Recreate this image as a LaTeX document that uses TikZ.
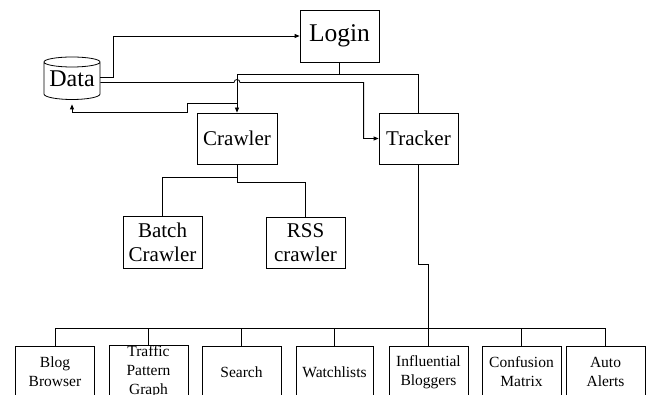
\documentclass[tikz,border=0pt]{standalone}
\usepackage{fontspec}
\setmainfont{Liberation Serif}
\usetikzlibrary{arrows.meta,calc}
\begin{document}
\begin{tikzpicture}[x=1pt,y=1pt,
  line width=0.8pt,
  box/.style={draw,line width=0.8pt,inner sep=0pt,align=center},
  bigbox/.style={box,minimum width=79pt,minimum height=52pt,font=\fontsize{25.5}{28}\selectfont},
  midbox/.style={box,minimum width=79pt,minimum height=51pt,font=\fontsize{21}{24}\selectfont},
  smallbox/.style={box,minimum width=79pt,minimum height=52pt,font=\fontsize{15.5}{19}\selectfont},
  arr/.style={-{Triangle[length=5pt,width=4pt]}}]
\clip (0,0) rectangle (647,394);
% nodes
\node[bigbox] (login) at (339.5,358) {Login};
\node[inner sep=0pt,minimum width=56pt,minimum height=43pt,font=\fontsize{24}{28}\selectfont] (data) at (72,315.5) {Data};
\draw (44,332) -- (44,300) arc[start angle=180,end angle=360,x radius=28,y radius=5.5] -- (100,332)
  arc[start angle=0,end angle=180,x radius=28,y radius=5] arc[start angle=180,end angle=360,x radius=28,y radius=5];
\node[midbox,minimum width=80pt] (crawler) at (237,255.5) {Crawler};
\node[midbox] (tracker) at (418.5,255.5) {Tracker};
\node[midbox,minimum height=52pt] (batch) at (162.5,152) {Batch\\Crawler};
\node[midbox] (rss) at (305.5,151.5) {RSS\\crawler};
\node[smallbox] (blog) at (55,22) {Blog\\Browser};
\node[smallbox] (traffic) at (148.5,22) {Traffic\\Pattern\\Graph};
\node[smallbox] (search) at (241.5,22) {Search};
\node[smallbox,minimum width=77pt] (watch) at (334.5,22) {Watchlists};
\node[smallbox] (infl) at (428.5,22) {Influential\\Bloggers};
\node[smallbox] (conf) at (521.5,22) {Confusion\\Matrix};
\node[smallbox] (auto) at (605.5,22) {Auto\\Alerts};
% connectors
\draw[arr] ([yshift=1.5pt]data.east) -- ++(13,0) |- (login.west);
\draw[arr] (login.south) -- ++(0,-12) -| (crawler.north);
\draw (login.south) -- ++(0,-12) -| (tracker.north);
\draw[arr] ([yshift=-4pt]data.east) -- ([xshift=-3pt,yshift=-4pt]crawler.north |- data.east)
  arc[start angle=180,end angle=0,radius=3pt] -| ([xshift=-15pt]tracker.west) -- (tracker.west);
\draw[arr] ([yshift=9pt]crawler.north) -- ++(-50,0) -- ++(0,-9) -| ([yshift=-4pt]data.south);
\draw (crawler.south) -- ++(0,-13) -| (batch.north);
\draw (crawler.south) -- ++(0,-18) -| (rss.north);
\draw (tracker.south) -- ++(0,-100) -| (infl.north);
\coordinate (bus) at (0,66);
\draw (blog.north) -- (blog.north |- bus) -- (auto.north |- bus) -- (auto.north);
\foreach \n in {traffic,search,watch,conf}
  \draw (\n.north) -- (\n.north |- bus);
\end{tikzpicture}
\end{document}
